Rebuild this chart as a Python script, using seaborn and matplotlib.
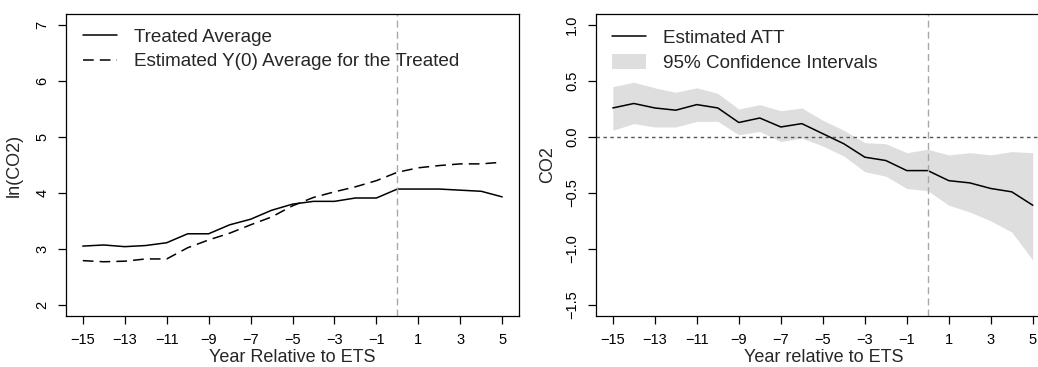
# ---------------------------------------------
# ETS effect on CO2: counterfactual + ATT plots
# ---------------------------------------------

import matplotlib
matplotlib.use("Agg")
import matplotlib.pyplot as plt
from matplotlib.lines import Line2D
from matplotlib.patches import Patch
import seaborn as sns

# -----------------------------
# DATA
# -----------------------------

years = list(range(-15, 6))

treated_avg = [3.05, 3.07, 3.04, 3.06, 3.11, 3.27, 3.27, 3.43, 3.53, 3.69, 3.80,
               3.85, 3.85, 3.91, 3.91, 4.07, 4.07, 4.07, 4.05, 4.03, 3.93]
y0_avg = [2.79, 2.77, 2.78, 2.82, 2.82, 3.02, 3.16, 3.28, 3.43, 3.57, 3.77,
          3.92, 4.02, 4.11, 4.22, 4.37, 4.45, 4.49, 4.52, 4.52, 4.55]

att = [0.26, 0.30, 0.26, 0.24, 0.29, 0.26, 0.13, 0.17, 0.09, 0.12, 0.03,
       -0.06, -0.18, -0.21, -0.30, -0.30, -0.39, -0.41, -0.46, -0.49, -0.61]
ci_upper = [0.45, 0.49, 0.44, 0.40, 0.44, 0.39, 0.25, 0.29, 0.235, 0.26, 0.15,
            0.06, -0.05, -0.06, -0.14, -0.11, -0.16, -0.14, -0.16, -0.13, -0.14]
ci_lower = [0.06, 0.12, 0.09, 0.09, 0.14, 0.14, 0.02, 0.05, -0.04, -0.01, -0.08,
            -0.17, -0.31, -0.35, -0.46, -0.48, -0.61, -0.67, -0.75, -0.85, -1.10]

xticks = list(range(-15, 6, 2))
left_yticks = [2, 3, 4, 5, 6, 7]
right_yticks = [-1.5, -1.0, -0.5, 0.0, 0.5, 1.0]
right_yticklabels = ["\u22121.5", "\u22121.0", "\u22120.5", "0.0", "0.5", "1.0"]

# -----------------------------
# STYLE
# -----------------------------

sns.set_style("ticks")
plt.rcParams["font.family"] = ["Liberation Sans", "DejaVu Sans"]

band_color = "#dedede"
vline_color = "#a8a8a8"
leg_size = 13.6

W, H = 1038, 367
fig = plt.figure(figsize=(W / 100, H / 100), dpi=100)

# axes boxes in pixels (left, top, right, bottom)
def px_axes(l, t, r, b):
    return fig.add_axes([l / W, 1 - b / H, (r - l) / W, (b - t) / H])

ax1 = px_axes(66, 14, 519, 316)
ax2 = px_axes(596, 14, 1049.6, 316)


def style_axes(ax):
    for s in ax.spines.values():
        s.set_visible(True)
        s.set_linewidth(0.9)
        s.set_color("black")
    ax.tick_params(axis="both", direction="out", length=6, width=0.9,
                   labelsize=10.5, colors="black", pad=6)
    ax.tick_params(axis="y", labelrotation=90)
    ax.set_xlim(-15.8, 5.8)
    ax.set_xticks(xticks)


# -----------------------------
# LEFT: treated vs Y(0)
# -----------------------------

sns.lineplot(x=years, y=treated_avg, ax=ax1, color="black", linewidth=1.1)
sns.lineplot(x=years, y=y0_avg, ax=ax1, color="black", linewidth=1.1,
             linestyle=(0, (7, 4)))
ax1.axvline(0, color=vline_color, linewidth=1.0, linestyle=(0, (5, 3)))

ax1.set_ylim(1.8, 7.2)
ax1.set_yticks(left_yticks)
style_axes(ax1)
for lab in ax1.get_yticklabels():
    lab.set_va("center")

ax1.set_xlabel("Year Relative to ETS", fontsize=13)
ax1.set_ylabel("ln(CO2)", fontsize=13)
ax1.xaxis.set_label_coords(0.5, (316 - 362) / 302)
ax1.xaxis.label.set_va("baseline")
ax1.yaxis.set_label_coords((23 - 66) / 453, 0.5)

h1 = [Line2D([], [], color="black", linewidth=1.1),
      Line2D([], [], color="black", linewidth=1.1, linestyle=(0, (7, 4)))]
ax1.legend(h1, ["Treated Average", "Estimated Y(0) Average for the Treated"],
           loc="upper left", bbox_to_anchor=(0.0375, 0.952), frameon=False,
           fontsize=leg_size, borderpad=0, borderaxespad=0, handlelength=1.8,
           handletextpad=0.9, labelspacing=0.38)

# -----------------------------
# RIGHT: ATT with 95% CI
# -----------------------------

ax2.fill_between(years, ci_lower, ci_upper, color=band_color, linewidth=0)
sns.lineplot(x=years, y=att, ax=ax2, color="black", linewidth=1.1)
ax2.axhline(0, color="#555555", linewidth=1.0, linestyle=(0, (2.5, 2.5)))
ax2.axvline(0, color=vline_color, linewidth=1.0, linestyle=(0, (5, 3)))

ax2.set_ylim(-1.6, 1.1)
ax2.set_yticks(right_yticks)
ax2.set_yticklabels(right_yticklabels)
style_axes(ax2)
for lab in ax2.get_yticklabels():
    lab.set_va("center")

ax2.set_xlabel("Year relative to ETS", fontsize=13)
ax2.set_ylabel("CO2", fontsize=13)
ax2.xaxis.set_label_coords((823.5 - 596) / 453.6, (316 - 362) / 302)
ax2.xaxis.label.set_va("baseline")
ax2.yaxis.set_label_coords((556 - 596) / 453.6, 0.5)

h2 = [Line2D([], [], color="black", linewidth=1.1),
      Patch(facecolor=band_color, edgecolor="none")]
ax2.legend(h2, ["Estimated ATT", "95% Confidence Intervals"],
           loc="upper left", bbox_to_anchor=((612 - 596) / 453.6, 0.952),
           frameon=False, fontsize=leg_size, borderpad=0, borderaxespad=0,
           handlelength=1.8, handleheight=0.85, handletextpad=0.9,
           labelspacing=0.38)

fig.savefig("out.png", dpi=100)
